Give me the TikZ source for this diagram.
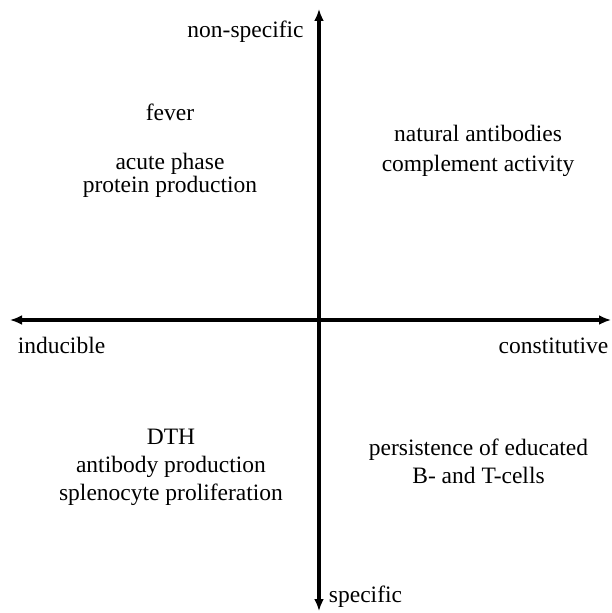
\documentclass[tikz,border=0pt]{standalone}
\usepackage{fontspec}
\setmainfont{Liberation Serif}
\usepackage{tikz}
\usetikzlibrary{arrows.meta}
\tikzstyle{axis} = [line width=3.8bp, {Latex[length=12bp,width=10bp]}-{Latex[length=12bp,width=10bp]}]
\tikzstyle{label} = [inner sep=0pt, anchor=base, align=center, font=\fontsize{23.5bp}{28bp}\selectfont]
\begin{document}
\begin{tikzpicture}[x=1bp, y=-1bp]
      \useasboundingbox (0, 0) rectangle (612, 613);
      % axes
      \coordinate (top)    at (319, 9);
      \coordinate (bottom) at (319, 611);
      \coordinate (left)   at (10, 320);
      \coordinate (right)  at (611, 320);
      \draw[axis] (bottom) -- (top);
      \draw[axis] (left) -- (right);
      % axis names
      \node (nonspec) at (245.5, 38) [label] {non-specific};
      \node (spec)    at (365.5, 602) [label] {specific};
      \node (induc)   at (61.5, 353) [label] {inducible};
      \node (const)   at (553.5, 353) [label] {constitutive};
      % quadrants (base = last line)
      \node (fever) at (170, 121) [label] {fever};
      \node (acute) at (170, 192) [label] {acute phase\\[-6bp]protein production};
      \node (natural) at (478, 172) [label] {natural antibodies\\[2bp]complement activity};
      \node (dth) at (171, 500) [label] {DTH\\antibody production\\splenocyte proliferation};
      \node (persist) at (478.5, 483) [label] {persistence of educated\\B- and T-cells};
\end{tikzpicture}
\end{document}
